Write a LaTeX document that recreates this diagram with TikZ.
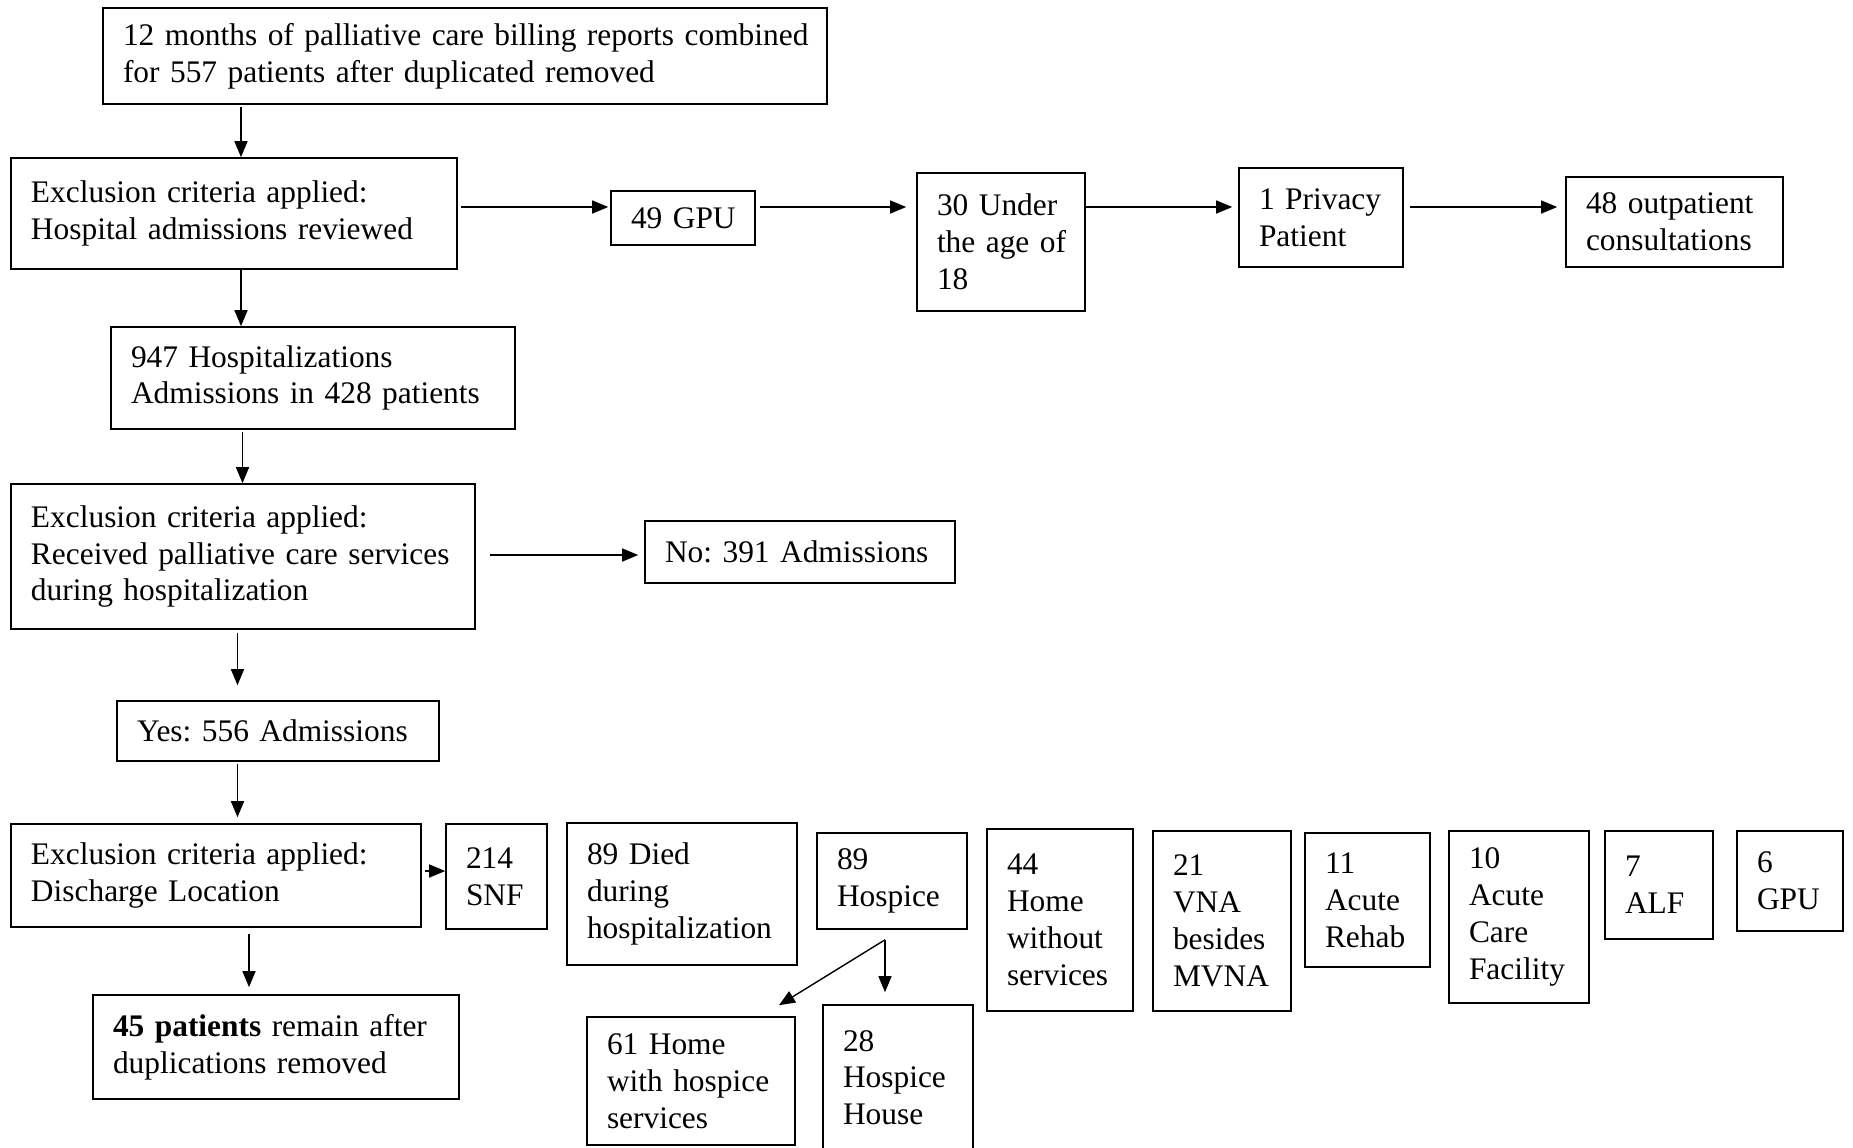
\documentclass[tikz,border=0pt]{standalone}
\usepackage{fontspec}
\setmainfont{Liberation Serif}
\usetikzlibrary{arrows.meta,calc}
\newcommand\Ln[1]{\mbox{#1}}
\frenchspacing
\begin{document}
\begin{tikzpicture}[x=0.5pt,y=-0.5pt,
  bx/.style={draw, line width=0.8pt, rectangle, align=left, inner xsep=10pt, inner ysep=0pt,
    font=\fontsize{15.7pt}{18.4pt}\selectfont},
  arr/.style={draw, line width=0.7pt, -{Triangle[length=8pt,width=6.5pt]}}]
\useasboundingbox (0,0) rectangle (1853,1147);

% top chain
\node[bx, text width=342pt, minimum height=48pt] (A) at (465,56)
  {\Ln{12 months of palliative care billing reports combined}\\\Ln{for 557 patients after duplicated removed}};
\node[bx, text width=203pt, minimum height=55.5pt] (B) at (234,213.5)
  {\Ln{Exclusion criteria applied:}\\\Ln{Hospital admissions reviewed}};
\node[bx, text width=52pt, minimum height=27pt] (GPU) at (683,218) {\Ln{49 GPU}};
\node[bx, text width=64pt, minimum height=69pt] (Under) at (1001,242)
  {\Ln{30 Under}\\\Ln{the age of}\\\Ln{18}};
\node[bx, text width=62pt, minimum height=49.5pt] (Priv) at (1321,217.5)
  {\Ln{1 Privacy}\\\Ln{Patient}};
\node[bx, text width=88.5pt, minimum height=45pt] (Outp) at (1674.5,222)
  {\Ln{48 outpatient}\\\Ln{consultations}};

% middle
\node[bx, text width=182pt, minimum height=51pt] (C) at (313,378)
  {\Ln{947 Hospitalizations}\\\Ln{Admissions in 428 patients}};
\node[bx, text width=212pt, minimum height=72.5pt] (D) at (243,556.5)
  {\Ln{Exclusion criteria applied:}\\\Ln{Received palliative care services}\\\Ln{during hospitalization}};
\node[bx, text width=135pt, minimum height=31pt] (No) at (800,552) {\Ln{No: 391 Admissions}};
\node[bx, text width=141pt, minimum height=30pt] (Yes) at (278,731) {\Ln{Yes: 556 Admissions}};

% bottom
\node[bx, text width=185pt, minimum height=51.5pt] (E) at (216,875.5)
  {\Ln{Exclusion criteria applied:}\\\Ln{Discharge Location}};
\node[bx, text width=30.5pt, minimum height=52.5pt] (SNF) at (496.5,876.5) {\Ln{214}\\\Ln{SNF}};
\node[bx, text width=95pt, minimum height=71pt] (Died) at (682,894)
  {\Ln{89 Died}\\\Ln{during}\\\Ln{hospitalization}};
\node[bx, text width=55pt, minimum height=48pt] (Hos) at (892,881) {\Ln{89}\\\Ln{Hospice}};
\node[bx, text width=163pt, minimum height=52pt] (P45) at (276,1047)
  {\Ln{\textbf{45 patients} remain after}\\\Ln{duplications removed}};
\node[bx, text width=84pt, minimum height=64pt] (H61) at (691,1081)
  {\Ln{61 Home}\\\Ln{with hospice}\\\Ln{services}};
\node[bx, text width=55pt, minimum height=72.5pt] (H28) at (898,1077.5)
  {\Ln{28}\\\Ln{Hospice}\\\Ln{House}};
\node[bx, text width=53pt, minimum height=91pt] (N44) at (1060,920)
  {\Ln{44}\\\Ln{Home}\\\Ln{without}\\\Ln{services}};
\node[bx, text width=49pt, minimum height=90pt] (N21) at (1222,921)
  {\Ln{21}\\\Ln{VNA}\\\Ln{besides}\\\Ln{MVNA}};
\node[bx, text width=42.5pt, minimum height=67pt] (N11) at (1367.5,900)
  {\Ln{11}\\\Ln{Acute}\\\Ln{Rehab}};
\node[bx, text width=50pt, minimum height=86pt] (N10) at (1519,917)
  {\Ln{10}\\\Ln{Acute}\\\Ln{Care}\\\Ln{Facility}};
\node[bx, text width=34pt, minimum height=54pt] (N7) at (1659,885) {\Ln{7}\\\Ln{ALF}};
\node[bx, text width=33pt, minimum height=50pt] (N6) at (1790,881) {\Ln{6}\\\Ln{GPU}};

% connectors
\draw[arr, shorten <=1pt] (A.south -| 241,0) -- (B.north -| 241,0);
\draw[arr, shorten <=1.5pt, shorten >=1pt] (B.east |- 0,207) -- (GPU.west |- 0,207);
\draw[arr, shorten <=2pt, shorten >=5pt] (GPU.east |- 0,207) -- (Under.west |- 0,207);
\draw[arr, shorten >=3pt] (Under.east |- 0,207) -- (Priv.west |- 0,207);
\draw[arr, shorten <=3pt, shorten >=4pt] (Priv.east |- 0,207) -- (Outp.west |- 0,207);
\draw[arr] (B.south -| 241,0) -- (C.north -| 241,0);
\draw[arr, shorten <=1pt] (C.south -| 242.5,0) -- (D.north -| 242.5,0);
\draw[arr, shorten <=7pt, shorten >=3pt] (D.east |- 0,555) -- (No.west |- 0,555);
\draw[arr, shorten <=1.5pt, shorten >=7.5pt] (D.south -| 237.5,0) -- (Yes.north -| 237.5,0);
\draw[arr, shorten <=1pt, shorten >=3pt] (Yes.south -| 237.5,0) -- (E.north -| 237.5,0);
\draw[arr, shorten <=1.5pt] (E.east |- 0,871) -- (SNF.west |- 0,871);
\draw[arr, shorten <=3pt, shorten >=3.5pt] (E.south -| 249,0) -- (P45.north -| 249,0);
\draw[arr] ($(Hos.south -| 885,0)+(0,10)$) -- ($(H61.north)+(88,-11)$);
\draw[arr, shorten >=6pt] ($(Hos.south -| 885,0)+(0,10)$) -- (H28.north -| 885,0);
\end{tikzpicture}
\end{document}
